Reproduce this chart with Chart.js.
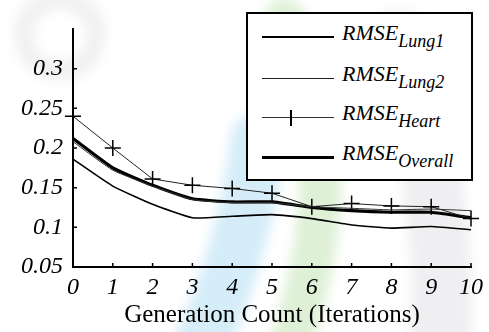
<!DOCTYPE html>
<html lang="en">
<head>
<meta charset="UTF-8">
<title>RMSE vs Generation Count</title>
<script src="https://cdn.jsdelivr.net/npm/chart.js"></script>
<style>
  body { margin: 0; background: #fff; }
  .wrap { position: relative; width: 489px; height: 332px; }
  canvas { position: absolute; left: 0; top: 0; }
  .legend {
    position: absolute; left: 246px; top: 12px; width: 223px; height: 165px;
    border: 2px solid #000; background: #fff;
    font-family: 'Liberation Serif', 'DejaVu Serif', serif; font-style: italic;
  }
  .row { position: absolute; left: 0; height: 40px; width: 100%; }
  .row .ln { position: absolute; left: 14px; width: 72px; background: #000; }
  .row .tx { position: absolute; left: 94px; top: -3px; font-size: 22px; white-space: nowrap; }
  .row .tx sub { font-size: 18px; vertical-align: -7px; }
  .cross { position: absolute; left: 42px; width: 2px; height: 16px; background: #000; }
</style>
</head>
<body>
<div class="wrap">
  <canvas id="chart" width="489" height="332"></canvas>
  <div class="legend">
    <div class="row" style="top:9px"><div class="ln" style="top:13px;height:2px"></div><div class="tx">RMSE<sub>Lung1</sub></div></div>
    <div class="row" style="top:50px"><div class="ln" style="top:14px;height:1px;background:#222"></div><div class="tx">RMSE<sub>Lung2</sub></div></div>
    <div class="row" style="top:89px"><div class="ln" style="top:14px;height:1px;background:#333"></div><div class="cross" style="top:7px"></div><div class="tx">RMSE<sub>Heart</sub></div></div>
    <div class="row" style="top:129px"><div class="ln" style="top:13px;height:3px"></div><div class="tx">RMSE<sub>Overall</sub></div></div>
  </div>
</div>
<script>
const iterations = ['0', '1', '2', '3', '4', '5', '6', '7', '8', '9', '10'];
const rmseLung1 = [0.186, 0.152, 0.129, 0.112, 0.114, 0.116, 0.111, 0.103, 0.099, 0.101, 0.097];
const rmseLung2 = [0.208, 0.172, 0.152, 0.135, 0.131, 0.131, 0.126, 0.124, 0.122, 0.123, 0.121];
const rmseHeart = [0.240, 0.200, 0.161, 0.153, 0.149, 0.143, 0.126, 0.130, 0.127, 0.126, 0.111];
const rmseOverall = [0.212, 0.175, 0.153, 0.136, 0.132, 0.132, 0.125, 0.121, 0.119, 0.119, 0.112];
const yTicks = [0.05, 0.1, 0.15, 0.2, 0.25, 0.3];

const serif = "'Liberation Serif', 'DejaVu Serif', serif";

// faint watermark shapes behind the plot
const watermark = {
  id: 'watermark',
  beforeDraw(chart) {
    const c = chart.ctx;
    c.save();
    c.filter = 'blur(6px)';
    c.lineCap = 'round';
    // blue band
    c.strokeStyle = 'rgba(185,225,245,0.6)';
    c.lineWidth = 55;
    c.beginPath(); c.moveTo(195, 360); c.quadraticCurveTo(245, 250, 258, 140); c.stroke();
    // green band
    c.strokeStyle = 'rgba(205,232,192,0.65)';
    c.lineWidth = 42;
    c.beginPath(); c.moveTo(285, 360); c.quadraticCurveTo(355, 170, 285, 20); c.stroke();
    // grey band
    c.strokeStyle = 'rgba(232,232,236,0.7)';
    c.lineWidth = 60;
    c.beginPath(); c.moveTo(440, 360); c.quadraticCurveTo(450, 200, 400, 40); c.stroke();
    // grey ring on the left
    c.strokeStyle = 'rgba(225,225,225,0.45)';
    c.lineWidth = 20;
    c.beginPath(); c.arc(60, 35, 36, 0, Math.PI * 2); c.stroke();
    c.restore();
  }
};

// inward tick marks
const innerTicks = {
  id: 'innerTicks',
  afterDraw(chart) {
    const c = chart.ctx, x = chart.scales.x, y = chart.scales.y;
    c.save();
    c.strokeStyle = '#000';
    c.lineWidth = 1.5;
    c.beginPath();
    yTicks.forEach(v => {
      const py = y.getPixelForValue(v);
      c.moveTo(x.left, py); c.lineTo(x.left + 4, py);
    });
    iterations.forEach((l, i) => {
      const px = x.getPixelForValue(i);
      c.moveTo(px, y.bottom); c.lineTo(px, y.bottom - 4);
    });
    c.stroke();
    c.restore();
  }
};

new Chart(document.getElementById('chart'), {
  type: 'line',
  data: {
    labels: iterations,
    datasets: [
      { label: 'Lung1', data: rmseLung1, borderColor: '#000', borderWidth: 1.6, pointRadius: 0, tension: 0.15 },
      { label: 'Lung2', data: rmseLung2, borderColor: '#333', borderWidth: 1, pointRadius: 0, tension: 0.15 },
      { label: 'Heart', data: rmseHeart, borderColor: '#222', borderWidth: 1, pointStyle: 'cross', pointRadius: 8,
        pointBorderWidth: 1.5, pointBorderColor: '#000', tension: 0, clip: false },
      { label: 'Overall', data: rmseOverall, borderColor: '#000', borderWidth: 3.2, pointRadius: 0, tension: 0.15 }
    ]
  },
  options: {
    responsive: false,
    animation: false,
    layout: { padding: { top: 29, right: 14, left: 0, bottom: 0 } },
    plugins: { legend: { display: false }, tooltip: { enabled: false } },
    scales: {
      x: {
        offset: false,
        grid: { display: false, drawTicks: false },
        border: { color: '#000', width: 2 },
        ticks: { color: '#000', padding: 6, maxRotation: 0, autoSkip: false,
                 font: { family: serif, style: 'italic', size: 24 } },
        title: { display: true, text: 'Generation Count (Iterations)', color: '#000', padding: { top: 0, bottom: 2 },
                 font: { family: serif, size: 25 } },
        afterFit: s => { s.height = 65; }
      },
      y: {
        min: 0.05, max: 0.35,
        grid: { display: false, drawTicks: false },
        border: { color: '#000', width: 2 },
        afterBuildTicks: s => { s.ticks = yTicks.concat([0.35]).map(v => ({ value: v })); },
        ticks: { color: '#000', padding: 10,
                 font: { family: serif, style: 'italic', size: 24 },
                 callback: v => yTicks.some(t => Math.abs(t - v) < 1e-6) ? String(Number(v.toFixed(2))) : '' },
        afterFit: s => { s.width = 73; }
      }
    }
  },
  plugins: [watermark, innerTicks]
});
</script>
</body>
</html>
